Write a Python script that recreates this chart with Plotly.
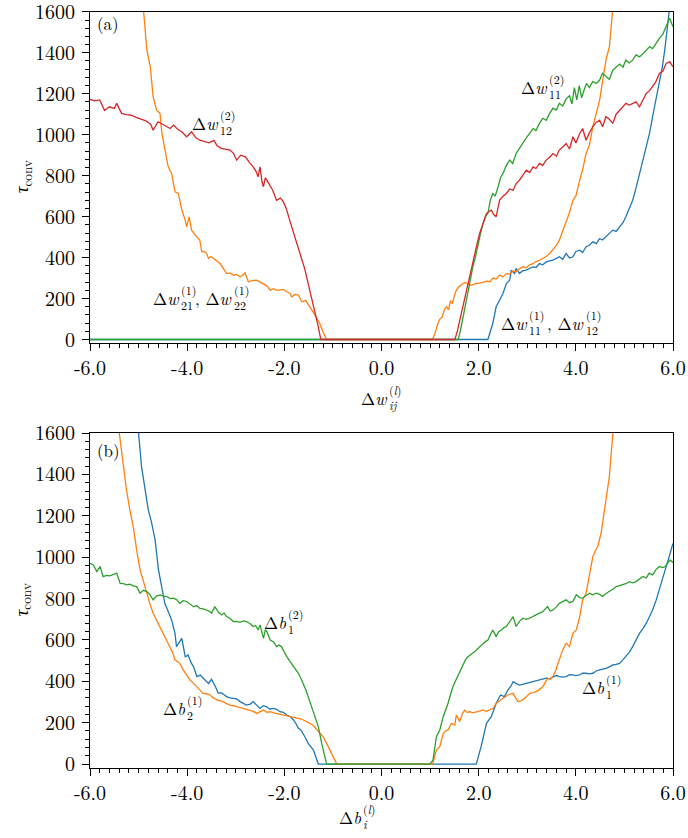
import plotly.graph_objects as go

# ---------------- Panel (a) data ----------------
XA_BLUE = [-6.0, 2.19, 2.29, 2.36, 2.43, 2.5, 2.57, 2.64, 2.67, 2.74, 2.77, 2.84, 2.9, 2.98, 3.05, 3.12, 3.18,
           3.25, 3.32, 3.39, 3.46, 3.53, 3.6, 3.66, 3.73, 3.8, 3.87, 3.94, 4.0, 4.08, 4.14, 4.21, 4.28, 4.35,
           4.42, 4.49, 4.55, 4.62, 4.69, 4.76, 4.83, 4.9, 4.97, 5.03, 5.1, 5.17, 5.24, 5.31, 5.38, 5.45, 5.52,
           5.58, 5.65, 5.72, 5.78, 5.83, 5.88, 5.93, 5.97]
YA_BLUE = [0, 0, 78, 160, 192, 225, 273, 290, 339, 322, 347, 322, 335, 339, 348, 355, 352,
           371, 365, 379, 384, 387, 396, 404, 392, 420, 398, 404, 430, 436, 425, 453, 460, 477,
           468, 493, 486, 501, 515, 534, 528, 550, 570, 599, 640, 680, 740, 811, 870, 941, 1010,
           1088, 1170, 1250, 1330, 1413, 1500, 1600, 1700]

XA_ORANGE = [-4.93, -4.9, -4.83, -4.76, -4.7, -4.63, -4.56, -4.52, -4.46, -4.39, -4.32, -4.25, -4.18, -4.11,
             -4.04, -4.01, -3.96, -3.91, -3.85, -3.8, -3.74, -3.7, -3.65, -3.6, -3.56, -3.51, -3.46, -3.39,
             -3.32, -3.25, -3.19, -3.12, -3.05, -2.98, -2.91, -2.85, -2.81, -2.74, -2.66, -2.57, -2.5, -2.43,
             -2.36, -2.29, -2.22, -2.16, -2.09, -2.02, -1.95, -1.88, -1.85, -1.78, -1.71, -1.64, -1.56, -1.47,
             -1.42, -1.37, -1.32, -1.27, -1.21, -1.16, -1.13,
             1.05, 1.1, 1.16, 1.2, 1.25, 1.3, 1.34, 1.38, 1.42, 1.46, 1.5, 1.54, 1.6, 1.66, 1.72, 1.78, 1.85,
             1.92, 2.0, 2.08, 2.16, 2.23, 2.3, 2.36, 2.43, 2.5, 2.57, 2.64, 2.7, 2.77, 2.84, 2.91, 2.98, 3.05,
             3.12, 3.18, 3.25, 3.32, 3.39, 3.46, 3.53, 3.6, 3.66, 3.73, 3.8, 3.87, 3.94, 4.0, 4.08, 4.14, 4.21,
             4.28, 4.35, 4.42, 4.49, 4.55, 4.62, 4.69, 4.76, 4.8]
YA_ORANGE = [1700, 1600, 1413, 1332, 1185, 1120, 1104, 1006, 925, 843, 811, 721, 713, 632,
             583, 550, 599, 534, 515, 501, 485, 428, 430, 420, 396, 405, 396, 380,
             371, 345, 322, 325, 314, 318, 306, 315, 326, 282, 288, 290, 280, 273,
             262, 241, 248, 240, 241, 245, 233, 225, 208, 220, 217, 184, 190, 160,
             140, 119, 100, 78, 40, 13, 0,
             0, 30, 78, 100, 110, 150, 160, 145, 190, 175, 215, 240, 260, 270, 280, 270, 265,
             272, 275, 278, 285, 282, 300, 295, 315, 305, 322, 320, 335, 330, 345, 355, 350, 365,
             370, 380, 387, 395, 405, 420, 440, 460, 485, 530, 583, 620, 680, 700, 778, 830, 908,
             950, 1039, 1100, 1169, 1260, 1364, 1429, 1600, 1720]

XA_GREEN = [-6.0, 1.58, 1.63, 1.68, 1.73, 1.78, 1.83, 1.88, 1.94, 1.99, 2.04, 2.09, 2.14, 2.19, 2.24, 2.29,
            2.34, 2.4, 2.45, 2.5, 2.57, 2.64, 2.7, 2.77, 2.84, 2.91, 2.98, 3.05, 3.12, 3.18, 3.25, 3.32, 3.39,
            3.46, 3.53, 3.6, 3.66, 3.73, 3.8, 3.87, 3.92, 3.97, 4.02, 4.07, 4.12, 4.17, 4.22, 4.28, 4.35, 4.42,
            4.49, 4.55, 4.62, 4.69, 4.76, 4.83, 4.9, 4.97, 5.03, 5.1, 5.17, 5.24, 5.31, 5.38, 5.45, 5.52, 5.58,
            5.65, 5.72, 5.79, 5.86, 5.93, 6.0]
YA_GREEN = [0, 0, 50, 110, 175, 241, 300, 355, 410, 469, 520, 566, 600, 615, 680, 713,
            700, 746, 790, 811, 850, 876, 860, 908, 935, 957, 985, 1006, 1030, 1020, 1055, 1080, 1070,
            1104, 1130, 1120, 1153, 1140, 1175, 1190, 1150, 1230, 1170, 1240, 1180, 1218, 1250, 1230, 1260, 1250,
            1267, 1300, 1283, 1270, 1315, 1330, 1345, 1330, 1364, 1350, 1364, 1390, 1380, 1395, 1413, 1430, 1420,
            1446, 1470, 1490, 1527, 1568, 1527]

XA_RED = [-6.0, -5.9, -5.8, -5.7, -5.6, -5.5, -5.45, -5.35, -5.25, -5.15, -5.05, -4.95, -4.85, -4.75, -4.7,
          -4.6, -4.5, -4.42, -4.35, -4.28, -4.2, -4.11, -4.01, -3.91, -3.82, -3.74, -3.65, -3.55, -3.45, -3.38,
          -3.3, -3.2, -3.12, -3.05, -2.98, -2.9, -2.8, -2.72, -2.64, -2.58, -2.54, -2.5, -2.46, -2.43, -2.39,
          -2.36, -2.3, -2.24, -2.16, -2.08, -2.02, -1.96, -1.9, -1.84, -1.78, -1.71, -1.65, -1.58, -1.51, -1.45,
          -1.4, -1.35, -1.3, -1.25,
          1.51, 1.56, 1.61, 1.66, 1.71, 1.76, 1.82, 1.87, 1.92, 1.97, 2.02, 2.08, 2.16, 2.21, 2.26, 2.31, 2.36,
          2.43, 2.5, 2.57, 2.64, 2.71, 2.77, 2.84, 2.9, 2.98, 3.05, 3.12, 3.18, 3.25, 3.32, 3.39, 3.46, 3.53,
          3.6, 3.66, 3.73, 3.8, 3.87, 3.94, 4.0, 4.08, 4.14, 4.21, 4.28, 4.35, 4.42, 4.49, 4.55, 4.62, 4.69,
          4.76, 4.83, 4.9, 4.97, 5.03, 5.1, 5.17, 5.24, 5.31, 5.38, 5.45, 5.52, 5.58, 5.65, 5.72, 5.79, 5.86,
          5.93, 6.0]
YA_RED = [1172, 1165, 1170, 1118, 1136, 1128, 1153, 1104, 1098, 1095, 1085, 1078, 1068, 1050, 1022,
          1063, 1050, 1039, 1030, 1047, 1028, 1014, 990, 1014, 985, 973, 968, 960, 972, 945,
          933, 930, 925, 910, 876, 900, 892, 865, 843, 820, 794, 843, 770, 746, 790,
          778, 750, 729, 680, 690, 672, 640, 590, 545, 500, 453, 405, 345, 274, 215,
          160, 110, 62, 0,
          0, 40, 94, 140, 192, 260, 322, 370, 420, 470, 518, 560, 615, 625, 632, 610, 599,
          680, 700, 713, 735, 729, 760, 778, 800, 827, 815, 843, 835, 860, 850, 876, 890, 908,
          895, 925, 940, 957, 930, 990, 960, 1006, 1030, 973, 1010, 1039, 1060, 1071, 1039, 1088, 1075,
          1055, 1100, 1120, 1135, 1153, 1145, 1153, 1160, 1136, 1170, 1201, 1215, 1234, 1260, 1299, 1310, 1348,
          1356, 1332]

# ---------------- Panel (b) data ----------------
XB_BLUE = [-5.06, -5.0, -4.94, -4.87, -4.8, -4.73, -4.66, -4.59, -4.52, -4.46, -4.39, -4.32, -4.25, -4.22,
           -4.16, -4.11, -4.04, -3.98, -3.92, -3.87, -3.8, -3.73, -3.67, -3.61, -3.56, -3.5, -3.46, -3.41,
           -3.36, -3.3, -3.24, -3.19, -3.12, -3.05, -2.98, -2.91, -2.85, -2.78, -2.7, -2.64, -2.57, -2.5,
           -2.43, -2.36, -2.3, -2.23, -2.16, -2.09, -2.02, -1.95, -1.88, -1.81, -1.76, -1.71, -1.66, -1.61,
           -1.56, -1.51, -1.45, -1.4, -1.36, -1.33, -1.3,
           1.95, 2.05, 2.16, 2.26, 2.36, 2.45, 2.53, 2.6, 2.66, 2.71, 2.77, 2.84, 2.9, 2.98, 3.05, 3.12, 3.18,
           3.25, 3.32, 3.39, 3.46, 3.53, 3.6, 3.66, 3.73, 3.8, 3.87, 3.94, 4.0, 4.08, 4.14, 4.21, 4.28, 4.35,
           4.42, 4.49, 4.55, 4.62, 4.69, 4.76, 4.83, 4.9, 4.97, 5.03, 5.1, 5.17, 5.24, 5.31, 5.38, 5.45, 5.52,
           5.58, 5.65, 5.72, 5.79, 5.86, 5.93, 6.0]
YB_BLUE = [1700, 1600, 1439, 1342, 1229, 1165, 1084, 939, 858, 777, 737, 697, 632, 568,
           590, 608, 519, 527, 490, 471, 423, 430, 415, 400, 390, 410, 394, 370,
           342, 345, 335, 326, 320, 318, 315, 302, 295, 285, 290, 302, 285, 269,
           282, 277, 265, 269, 265, 253, 250, 237, 230, 213, 195, 173, 165, 148,
           125, 100, 85, 68, 40, 19, 0,
           0, 84, 197, 229, 294, 334, 326, 358, 375, 398, 390, 382, 385, 390, 395, 398, 402,
           406, 410, 415, 412, 419, 428, 423, 420, 423, 432, 431, 428, 431, 440, 439, 436, 439,
           450, 455, 458, 463, 470, 479, 482, 487, 505, 519, 540, 568, 600, 632, 655, 681, 715,
           745, 790, 842, 900, 955, 1010, 1068]

XB_ORANGE = [-5.45, -5.4, -5.31, -5.25, -5.18, -5.11, -5.04, -4.97, -4.92, -4.87, -4.82, -4.77, -4.7, -4.63,
             -4.56, -4.49, -4.42, -4.35, -4.3, -4.25, -4.2, -4.15, -4.08, -4.01, -3.94, -3.87, -3.8, -3.73,
             -3.67, -3.6, -3.53, -3.46, -3.39, -3.32, -3.26, -3.19, -3.12, -3.05, -2.98, -2.91, -2.84, -2.77,
             -2.71, -2.64, -2.57, -2.5, -2.43, -2.36, -2.29, -2.22, -2.16, -2.09, -2.02, -1.95, -1.88, -1.81,
             -1.74, -1.67, -1.61, -1.54, -1.47, -1.4, -1.33, -1.27, -1.2, -1.13, -1.06, -1.0, -0.96, -0.92,
             1.05, 1.13, 1.2, 1.27, 1.32, 1.37, 1.44, 1.51, 1.54, 1.61, 1.66, 1.71, 1.76, 1.82, 1.88, 1.95, 2.02,
             2.09, 2.16, 2.23, 2.3, 2.36, 2.43, 2.5, 2.55, 2.6, 2.66, 2.71, 2.76, 2.81, 2.86, 2.91, 2.98, 3.05,
             3.12, 3.18, 3.25, 3.32, 3.37, 3.42, 3.47, 3.53, 3.58, 3.63, 3.68, 3.73, 3.8, 3.87, 3.94, 4.01, 4.08,
             4.14, 4.21, 4.28, 4.35, 4.4, 4.45, 4.52, 4.59, 4.66, 4.69, 4.72, 4.76, 4.8]
YB_ORANGE = [1700, 1600, 1439, 1326, 1229, 1148, 1036, 939, 900, 858, 820, 777, 729, 697,
             665, 632, 600, 568, 540, 503, 495, 487, 455, 430, 406, 390, 374, 360,
             342, 340, 334, 320, 310, 305, 302, 292, 285, 282, 277, 275, 269, 265,
             261, 255, 245, 255, 261, 250, 253, 248, 245, 240, 237, 232, 229, 225,
             221, 218, 213, 205, 197, 185, 165, 150, 132, 100, 68, 40, 19, 0,
             0, 68, 84, 148, 160, 165, 197, 189, 237, 205, 240, 261, 250, 253, 248, 253, 258,
             261, 255, 261, 270, 294, 305, 318, 325, 334, 338, 342, 320, 302, 305, 310, 325, 342,
             345, 350, 360, 374, 395, 415, 410, 423, 450, 487, 520, 552, 584, 568, 632, 648, 713,
             794, 826, 907, 1003, 1030, 1052, 1116, 1229, 1358, 1390, 1480, 1600, 1700]

XB_GREEN = [-6.0, -5.93, -5.86, -5.79, -5.73, -5.66, -5.59, -5.52, -5.45, -5.38, -5.31, -5.25, -5.18, -5.11,
            -5.04, -4.97, -4.9, -4.83, -4.77, -4.7, -4.63, -4.56, -4.49, -4.42, -4.35, -4.28, -4.22, -4.15,
            -4.08, -4.01, -3.94, -3.87, -3.8, -3.74, -3.67, -3.6, -3.55, -3.5, -3.43, -3.36, -3.29, -3.24,
            -3.19, -3.12, -3.05, -2.98, -2.91, -2.84, -2.78, -2.71, -2.64, -2.59, -2.54, -2.5, -2.46, -2.43,
            -2.39, -2.36, -2.29, -2.22, -2.16, -2.11, -2.06, -2.0, -1.95, -1.88, -1.81, -1.76, -1.71, -1.66,
            -1.61, -1.56, -1.51, -1.45, -1.4, -1.35, -1.3, -1.23, -1.16, -1.13,
            0.99, 1.06, 1.13, 1.2, 1.27, 1.32, 1.37, 1.42, 1.47, 1.52, 1.58, 1.63, 1.68, 1.73, 1.78, 1.83, 1.88,
            1.94, 1.99, 2.04, 2.09, 2.14, 2.19, 2.24, 2.29, 2.36, 2.41, 2.47, 2.52, 2.57, 2.64, 2.71, 2.77, 2.84,
            2.91, 2.98, 3.05, 3.12, 3.18, 3.25, 3.32, 3.37, 3.42, 3.47, 3.53, 3.6, 3.66, 3.73, 3.8, 3.87, 3.94,
            4.01, 4.08, 4.14, 4.21, 4.28, 4.35, 4.42, 4.49, 4.55, 4.62, 4.69, 4.76, 4.83, 4.9, 4.97, 5.03, 5.1,
            5.17, 5.24, 5.31, 5.38, 5.45, 5.51, 5.58, 5.65, 5.72, 5.79, 5.84, 5.89, 5.94, 6.0]
YB_GREEN = [971, 963, 931, 955, 906, 912, 910, 915, 923, 874, 872, 866, 870, 862,
            858, 826, 840, 834, 820, 794, 812, 818, 812, 810, 800, 802, 795, 777,
            790, 786, 775, 761, 765, 753, 750, 745, 740, 729, 761, 735, 721, 730,
            713, 705, 689, 690, 685, 692, 689, 680, 665, 670, 648, 673, 640, 608,
            650, 640, 600, 590, 568, 575, 568, 540, 519, 495, 471, 455, 439, 415,
            390, 360, 326, 285, 245, 215, 181, 100, 19, 0,
            0, 19, 132, 165, 229, 260, 294, 335, 374, 400, 431, 460, 487, 505, 519, 528, 535,
            548, 560, 572, 584, 592, 600, 625, 648, 616, 640, 648, 660, 665, 690, 713, 665, 690,
            705, 700, 705, 712, 721, 730, 737, 750, 761, 740, 745, 760, 777, 785, 794, 780, 786,
            818, 805, 802, 815, 826, 818, 826, 820, 810, 825, 834, 845, 858, 862, 866, 872, 882,
            876, 882, 895, 907, 900, 923, 915, 940, 955, 950, 955, 970, 987, 975, 1003]

XTICKS = [-6, -4, -2, 0, 2, 4, 6]
XTICKTEXT = ["-6.0", "-4.0", "-2.0", "0.0", "2.0", "4.0", "6.0"]
YTICKS = [0, 200, 400, 600, 800, 1000, 1200, 1400, 1600]
YTICKTEXT = ["0", "200", "400", "600", "800", "1000", "1200", "1400", "1600"]

BLUE, ORANGE, GREEN, RED = "#1f77b4", "#ff7f0e", "#2ca02c", "#d62728"
FONT = "Latin Modern Roman"

fig = go.Figure()
LW = 1.3

def add(x, y, color, xa, ya):
    fig.add_trace(go.Scatter(x=x, y=y, mode="lines", line=dict(color=color, width=LW),
                             xaxis=xa, yaxis=ya, showlegend=False, hoverinfo="skip"))

add(XA_BLUE, YA_BLUE, BLUE, "x", "y")
add(XA_ORANGE, YA_ORANGE, ORANGE, "x", "y")
add(XA_GREEN, YA_GREEN, GREEN, "x", "y")
add(XA_RED, YA_RED, RED, "x", "y")
add(XB_BLUE, YB_BLUE, BLUE, "x2", "y2")
add(XB_ORANGE, YB_ORANGE, ORANGE, "x2", "y2")
add(XB_GREEN, YB_GREEN, GREEN, "x2", "y2")

# the page's body margin is removed in post_script, so the figure fills the window
W, H = 688, 838

def px(xp):
    return xp / W

def py(yp):
    return 1 - yp / H

xdom = [px(90), px(673)]
ydom_a = [py(343), py(11.7)]
ydom_b = [py(768), py(433)]

def xaxis(anchor):
    return dict(domain=xdom, range=[-6, 6], anchor=anchor, tickmode="array", tickvals=XTICKS,
                ticktext=XTICKTEXT, ticks="outside", ticklen=7, tickwidth=1, tickcolor="black",
                showline=True, linecolor="black", linewidth=1, mirror=True, showgrid=False,
                zeroline=False, automargin=False, ticklabeloverflow="allow",
                tickfont=dict(family=FONT, size=20, color="black"),
                minor=dict(tickmode="linear", tick0=0, dtick=0.2, ticks="outside", ticklen=4,
                           tickwidth=1, tickcolor="black", showgrid=False))

def yaxis(anchor, dom, lo):
    return dict(domain=dom, range=[lo, 1600.5], anchor=anchor, tickmode="array", tickvals=YTICKS,
                ticktext=YTICKTEXT,
                ticks="outside", ticklen=7, tickwidth=1, tickcolor="black", ticklabelstandoff=3,
                showline=True, linecolor="black", linewidth=1, mirror=True, showgrid=False,
                zeroline=False, automargin=False, ticklabeloverflow="allow",
                tickfont=dict(family=FONT, size=20, color="black"),
                minor=dict(tickmode="linear", tick0=0, dtick=40, ticks="outside", ticklen=4,
                           tickwidth=1, tickcolor="black", showgrid=False))

fig.update_layout(
    width=W, height=H, margin=dict(l=0, r=0, t=0, b=0, autoexpand=False),
    paper_bgcolor="white", plot_bgcolor="white",
    font=dict(family=FONT, color="black"),
    xaxis=xaxis("y"), yaxis=yaxis("x", ydom_a, -17),
    xaxis2=xaxis("y2"), yaxis2=yaxis("x2", ydom_b, -19),
)

def mlabel(x, y, base, sup, sub, xref, yref, bsize=17, ssize=12):
    fig.add_annotation(x=x, y=y, xref=xref, yref=yref, text=base, showarrow=False,
                       xanchor="right", yanchor="middle", font=dict(size=bsize, family=FONT),
                       borderpad=0)
    fig.add_annotation(x=x, y=y, xref=xref, yref=yref, text=sup, showarrow=False,
                       xanchor="left", yanchor="middle", yshift=9, font=dict(size=ssize, family=FONT),
                       borderpad=0)
    fig.add_annotation(x=x, y=y, xref=xref, yref=yref, text=sub, showarrow=False,
                       xanchor="left", yanchor="middle", yshift=-6, font=dict(size=ssize, family=FONT),
                       borderpad=0)

DW = "Δ<i>w</i>"
DB = "Δ<i>b</i>"
# panel (a) labels
mlabel(-3.345, 1056, DW, "(2)", "12", "x", "y")
mlabel(3.43, 1232, DW, "(2)", "11", "x", "y")
mlabel(3.02, 80, DW, "(1)", "11", "x", "y")
mlabel(4.19, 80, ", " + DW, "(1)", "12", "x", "y")
mlabel(-4.147, 202, DW, "(1)", "21", "x", "y")
mlabel(-3.056, 202, ", " + DW, "(1)", "22", "x", "y")
mlabel(px(388), py(398), DW, "(<i>l</i>)", "<i>ij</i>", "paper", "paper")
# panel (b) labels
mlabel(-1.945, 686, DB, "(2)", "1", "x2", "y2")
mlabel(-4.02, 271, DB, "(1)", "2", "x2", "y2")
mlabel(4.6, 372, DB, "(1)", "1", "x2", "y2")
mlabel(px(362), py(817), DB, "(<i>l</i>)", "<i>i</i>", "paper", "paper")

fig.add_annotation(x=-5.9, y=1544, xref="x", yref="y", text="(a)", showarrow=False,
                   xanchor="left", yanchor="middle", font=dict(size=17, family=FONT))
fig.add_annotation(x=-5.9, y=1518, xref="x2", yref="y2", text="(b)", showarrow=False,
                   xanchor="left", yanchor="middle", font=dict(size=17, family=FONT))

for yc in [(ydom_a[0] + ydom_a[1]) / 2, (ydom_b[0] + ydom_b[1]) / 2]:
    fig.add_annotation(x=px(21), y=yc, xref="paper", yref="paper", text="<i>τ</i><sub>conv</sub>",
                       showarrow=False, textangle=-90, xanchor="center", yanchor="middle",
                       font=dict(size=19, family=FONT))

fig.write_html("out.html", config={"displayModeBar": False},
               post_script="document.body.style.margin='0';document.body.style.overflow='hidden';")
